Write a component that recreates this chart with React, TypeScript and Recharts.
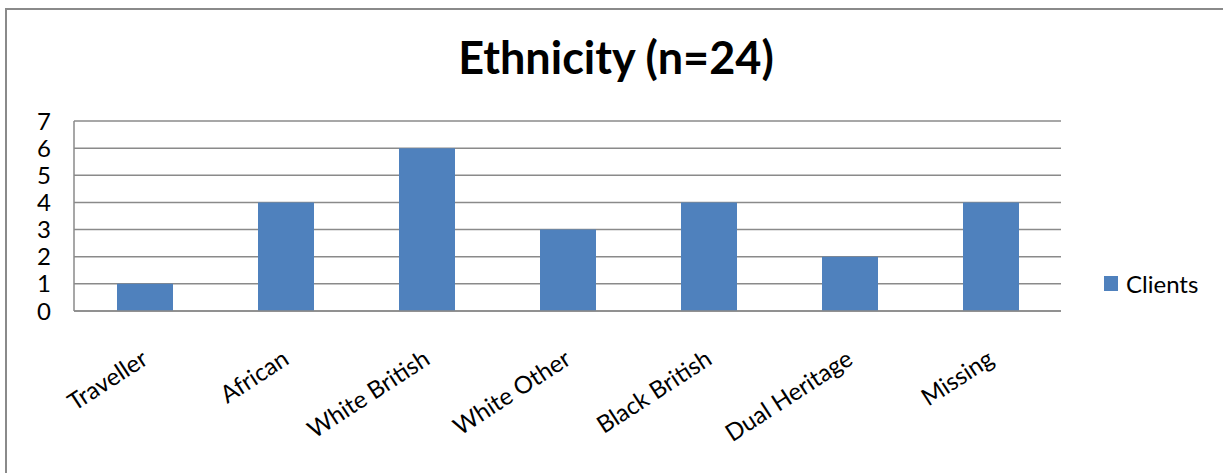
import React from "react";
import { BarChart, Bar, XAxis, YAxis, CartesianGrid, Legend } from "recharts";

const groups = ["Traveller", "African", "White British", "White Other", "Black British", "Dual Heritage", "Missing"];
const clients = [1, 4, 6, 3, 4, 2, 4];
const yTicks = [0, 1, 2, 3, 4, 5, 6, 7];

const rows = groups.map((name, i) => ({ name, Clients: clients[i] }));

const FONT = "Lato, 'Noto Sans', sans-serif";
const GRID = "#8a8a8a";
const BLUE = "#4f81bd";

// slanted category labels, anchored at their end just below the axis
const SlantTick = (props: any) => {
  const { x, y, payload } = props;
  return (
    <g transform={`translate(${x + 5},${y + 52})`}>
      <text
        x={0}
        y={0}
        textAnchor="end"
        transform="rotate(-33)"
        fontFamily={FONT}
        fontSize={24}
        fill="#000"
      >
        {payload.value}
      </text>
    </g>
  );
};

const LegendBox = (props: any) => {
  const { payload } = props;
  return (
    <div style={{ fontFamily: FONT, fontSize: 24, color: "#000" }}>
      {(payload || []).map((item: any) => (
        <div key={item.value} style={{ display: "flex", alignItems: "center" }}>
          <span style={{ width: 14, height: 15, background: item.color, marginRight: 8, display: "inline-block" }} />
          <span>{item.value}</span>
        </div>
      ))}
    </div>
  );
};

export default function App() {
  return (
    <div style={{ position: "absolute", left: 0, top: 0, width: 1223, height: 473, overflow: "hidden", background: "#fff" }}>
      <div
        style={{
          position: "absolute",
          left: 5,
          top: 8,
          width: 1300,
          height: 600,
          border: `2px solid ${GRID}`,
        }}
      />
      <div style={{ position: "absolute", left: 0, top: 0 }}>
        <BarChart
          width={1223}
          height={473}
          data={rows}
          margin={{ top: 121, right: 162, bottom: 132, left: 24 }}
        >
          <text
            x={616}
            y={74}
            textAnchor="middle"
            fontFamily={FONT}
            fontWeight={700}
            fontSize={45}
            fill="#000"
          >
            Ethnicity (n=24)
          </text>
          <CartesianGrid vertical={false} stroke={GRID} strokeWidth={1.5} />
          <XAxis
            dataKey="name"
            height={30}
            tickLine={false}
            tickSize={0}
            tickMargin={0}
            interval={0}
            axisLine={{ stroke: GRID, strokeWidth: 1.5 }}
            tick={<SlantTick />}
          />
          <YAxis
            width={50}
            domain={[0, 7]}
            ticks={yTicks}
            interval={0}
            tickLine={false}
            tickSize={0}
            tickMargin={23}
            axisLine={{ stroke: GRID, strokeWidth: 1.5 }}
            tick={{ fontFamily: FONT, fontSize: 24, fill: "#000" }}
          />
          <Legend
            layout="horizontal"
            align="center"
            verticalAlign="middle"
            content={<LegendBox />}
            wrapperStyle={{ left: 1104, top: 269, width: 110 }}
          />
          <Bar dataKey="Clients" fill={BLUE} barSize={56} isAnimationActive={false} />
        </BarChart>
      </div>
    </div>
  );
}
